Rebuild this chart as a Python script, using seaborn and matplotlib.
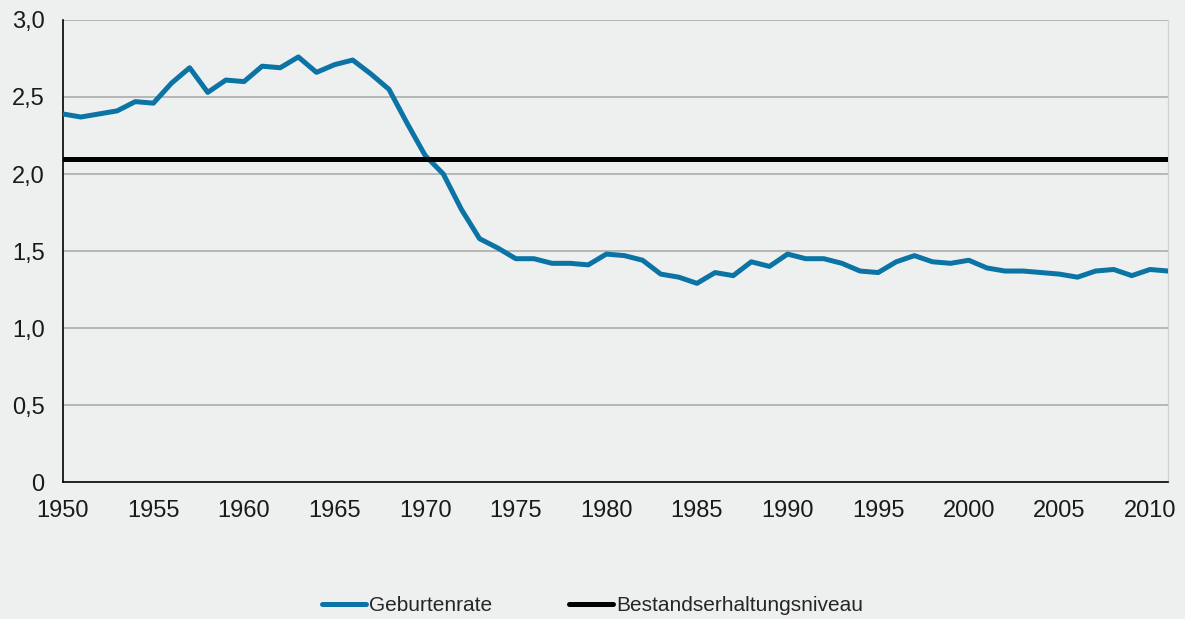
import pandas as pd
import seaborn as sns
import matplotlib.pyplot as plt

# --- Daten ---
jahre = list(range(1950, 2012))
geburtenrate = [2.39, 2.37, 2.39, 2.41, 2.47, 2.46, 2.59, 2.69, 2.53, 2.61,
                2.60, 2.70, 2.69, 2.76, 2.66, 2.71, 2.74, 2.65, 2.55, 2.33,
                2.12, 2.00, 1.77, 1.58, 1.52, 1.45, 1.45, 1.42, 1.42, 1.41,
                1.48, 1.47, 1.44, 1.35, 1.33, 1.29, 1.36, 1.34, 1.43, 1.40,
                1.48, 1.45, 1.45, 1.42, 1.37, 1.36, 1.43, 1.47, 1.43, 1.42,
                1.44, 1.39, 1.37, 1.37, 1.36, 1.35, 1.33, 1.37, 1.38, 1.34,
                1.38, 1.37]
bestandserhaltung = [2.1] * len(jahre)
reihen = ['Geburtenrate', 'Bestandserhaltungsniveau']
farben = ['#0B74A5', '#000000']
y_ticks = [0, 0.5, 1.0, 1.5, 2.0, 2.5, 3.0]
y_labels = ['0', '0,5', '1,0', '1,5', '2,0', '2,5', '3,0']
x_ticks = list(range(1950, 2011, 5))

df = pd.DataFrame({
    'Jahr': jahre * 2,
    'Wert': geburtenrate + bestandserhaltung,
    'Reihe': [reihen[0]] * len(jahre) + [reihen[1]] * len(jahre),
})

# --- Stil ---
bg = '#EEF0EF'
sns.set_style('white')
plt.rcParams['font.family'] = ['Liberation Sans', 'DejaVu Sans']

fig = plt.figure(figsize=(11.85, 6.19), dpi=100, facecolor=bg)
ax = fig.add_axes([0.053, 0.2213, 0.9327, 0.7464])
ax.set_facecolor(bg)

# Gitterlinien zuerst, damit die Kurven darüber liegen
for y in y_ticks[1:]:
    ax.axhline(y, color='#A6A6A6', lw=1.1, zorder=1)

sns.lineplot(data=df, x='Jahr', y='Wert', hue='Reihe', hue_order=reihen,
             palette=farben, linewidth=3.6, ax=ax, legend=False, zorder=3)

ax.set_xlim(1950, 2011)
ax.set_ylim(0, 3.0)
ax.set_xticks(x_ticks)
ax.set_yticks(y_ticks)
ax.set_yticklabels(y_labels)
ax.set_xlabel('')
ax.set_ylabel('')
ax.tick_params(axis='both', direction='out', length=5, width=1,
               color='#555555', labelsize=17, colors='#1a1a1a')
ax.tick_params(axis='x', pad=8)
ax.tick_params(axis='y', pad=8)

ax.spines['top'].set_visible(False)
ax.spines['right'].set_color('#D0D3D4')
ax.spines['right'].set_linewidth(1)
ax.spines['left'].set_color('black')
ax.spines['bottom'].set_color('black')
ax.spines['left'].set_linewidth(1.2)
ax.spines['bottom'].set_linewidth(1.2)

# --- Legende ---
handles = [plt.Line2D([], [], color=c, lw=3.6, solid_capstyle='round') for c in farben]
fig.legend(handles, reihen, loc='center', bbox_to_anchor=(0.5, 0.022), ncol=2,
           frameon=False, handlelength=2.1, handletextpad=0.15,
           columnspacing=3.7, fontsize=15)

plt.savefig('out.png', dpi=100, facecolor=bg)
